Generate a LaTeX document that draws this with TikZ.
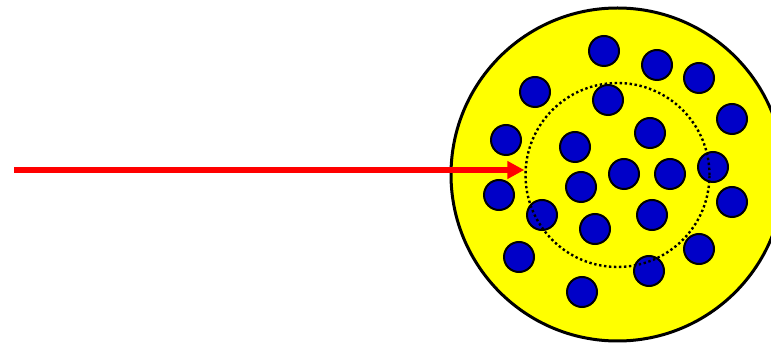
\documentclass[tikz,border=0pt]{standalone}
\usetikzlibrary{arrows.meta}
\definecolor{dotblue}{RGB}{0,0,200}
\definecolor{diskyellow}{RGB}{255,255,0}
\begin{document}
\begin{tikzpicture}[x=1pt,y=-1pt,
  outerdisk/.style={circle,draw=black,line width=3pt,fill=diskyellow,minimum size=333pt,inner sep=0pt},
  innerring/.style={circle,draw=black,line width=2.4pt,dash pattern=on 2.4pt off 2.6pt,minimum size=184pt,inner sep=0pt},
  bluedot/.style={circle,draw=black,line width=2pt,fill=dotblue,minimum size=30pt,inner sep=0pt},
  beam/.style={draw=red,line width=5.5pt,-{Triangle[length=17pt,width=17pt]}}]
\useasboundingbox (0,0) rectangle (771,344);
\node[outerdisk] (outer) at (617.5,174.5) {};
\foreach \n/\x/\y in {1/604/51,2/657/65,3/699/78,4/535/92,5/608/100,6/732/119,7/650/133,8/506/140,9/575/147,10/713/167,11/624/174,12/670/174,13/581/187,14/499/195,15/732/202,16/542/215,17/652/215,18/595/229,19/519/257,20/699/249,21/649/271,22/582/292}
  \node[bluedot] (d\n) at (\x,\y) {};
\node[innerring] (inner) at (617.5,175) {};
\coordinate (src) at (14,170);
\draw[beam] (src) -- (inner.west |- src);
\end{tikzpicture}
\end{document}
